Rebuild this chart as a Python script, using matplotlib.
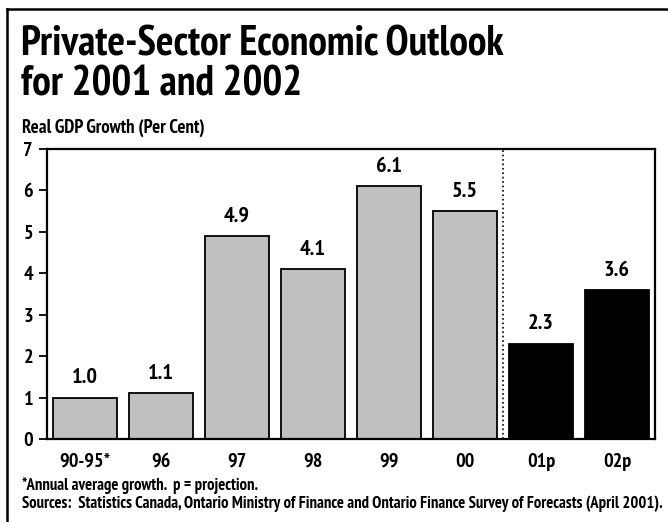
import matplotlib.pyplot as plt
from matplotlib.lines import Line2D

categories = ["90-95*", "96", "97", "98", "99", "00", "01p", "02p"]
growth = [1.0, 1.1, 4.9, 4.1, 6.1, 5.5, 2.3, 3.6]
projected = [False, False, False, False, False, False, True, True]

plt.rcParams["font.family"] = ["PT Sans Narrow", "DejaVu Sans"]
plt.rcParams["font.weight"] = "bold"

W, H = 668, 522
fig = plt.figure(figsize=(W / 100, H / 100), dpi=100)

# outer frame: left and top edges only
fig.add_artist(Line2D([7 / W, 7 / W], [0, 1 - 9 / H], transform=fig.transFigure, color="black", lw=1.8))
fig.add_artist(Line2D([7 / W, 1], [1 - 9 / H, 1 - 9 / H], transform=fig.transFigure, color="black", lw=1.8))

fig.text(21 / W, 1 - 55 / H, "Private-Sector Economic Outlook", fontsize=30, va="baseline")
fig.text(21 / W, 1 - 95 / H, "for 2001 and 2002", fontsize=30, va="baseline")
fig.text(22 / W, 1 - 128 / H, "Real GDP Growth (Per Cent)", fontsize=13.5, va="center")

ax = fig.add_axes([47 / W, (H - 439) / H, 608 / W, 290 / H])
x = list(range(len(categories)))
colors = ["black" if p else "#c0c0c0" for p in projected]
ax.bar(x, growth, width=0.84, color=colors, edgecolor="black", linewidth=1.3)
for xi, v in zip(x, growth):
    ax.text(xi, v + 0.25, f"{v:.1f}", ha="center", va="bottom", fontsize=16)

ax.axvline(5.5, color="black", linestyle=":", lw=1.2)
ax.set_xlim(-0.5, 7.5)
ax.set_ylim(0, 7)
ax.set_yticks(range(8))
ax.set_xticks(x)
ax.set_xticklabels(categories)
ax.tick_params(axis="y", length=6, width=1.3, labelsize=14.5, pad=4)
ax.tick_params(axis="x", length=0, labelsize=14.5, pad=10)
for lab in ax.get_xticklabels() + ax.get_yticklabels():
    lab.set_fontweight("bold")
for s in ax.spines.values():
    s.set_linewidth(1.6)

fig.text(22 / W, 1 - 486 / H, "*Annual average growth.  p = projection.", fontsize=12, va="center")
fig.text(22 / W, 1 - 504 / H,
         "Sources:  Statistics Canada, Ontario Ministry of Finance and Ontario Finance Survey of Forecasts (April 2001).",
         fontsize=12, va="center")

fig.savefig("out.png", dpi=100)
